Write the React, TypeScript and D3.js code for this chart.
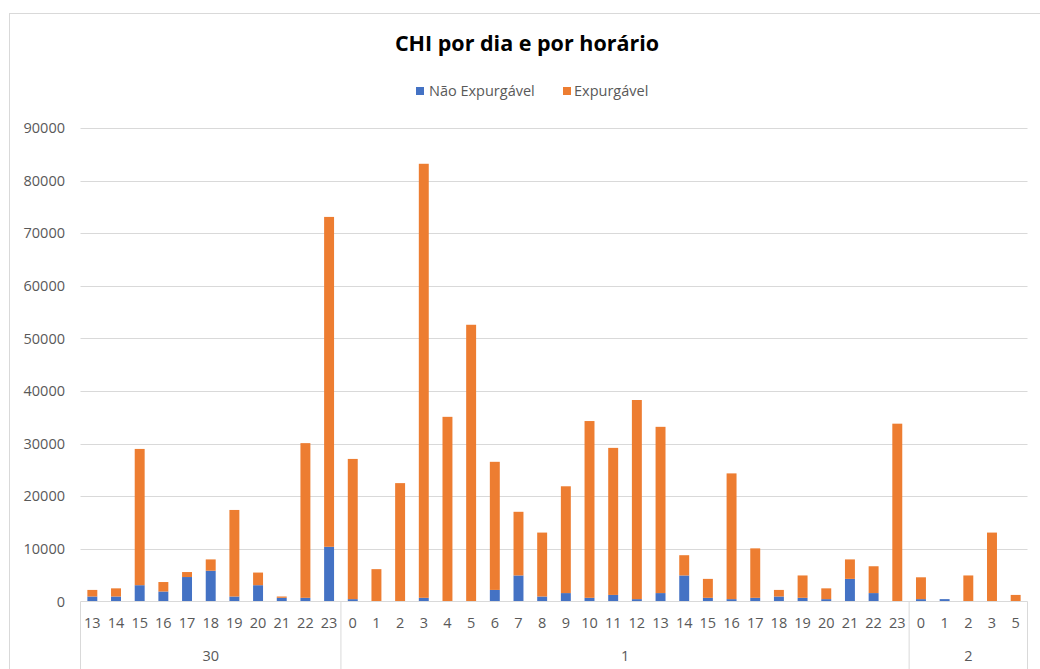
import * as d3 from "d3";

const days = ["30", "1", "2"];
const hoursByDay = [
  ["13", "14", "15", "16", "17", "18", "19", "20", "21", "22", "23"],
  ["0", "1", "2", "3", "4", "5", "6", "7", "8", "9", "10", "11", "12", "13", "14", "15", "16", "17", "18", "19", "20", "21", "22", "23"],
  ["0", "1", "2", "3", "5"],
];

// totals per hour (stack top) and the blue part
const totals = [
  2200, 2500, 29000, 3700, 5600, 8000, 17400, 5500, 950, 30100, 73100,
  27100, 6150, 22500, 83200, 35100, 52600, 26550, 17050, 13100, 21900, 34300, 29200, 38300,
  33200, 8800, 4300, 24350, 10100, 2200, 4950, 2500, 8000, 6700, 33800,
  4600, 450, 4950, 13100, 1250,
];
const naoExpurgavel = [
  950, 950, 3100, 1900, 4650, 5850, 950, 3100, 700, 700, 10400,
  450, 0, 0, 700, 0, 0, 2200, 4950, 950, 1600, 700, 1250, 450,
  1600, 4950, 700, 450, 700, 950, 700, 450, 4300, 1600, 0,
  450, 450, 0, 0, 0,
];
const expurgavel = totals.map((t, i) => t - naoExpurgavel[i]);

const yTicks = [0, 10000, 20000, 30000, 40000, 50000, 60000, 70000, 80000, 90000];

const BLUE = "#4472C4";
const ORANGE = "#ED7D31";
const TEXT = "#595959";
const GRID = "#D9D9D9";
const FONT = "'Open Sans', 'Noto Sans', sans-serif";

export default function App() {
  const width = 1040;
  const height = 669;
  const left = 80.5;
  const right = 1027.5;
  const top = 128;
  const bottom = 601.5;

  const cats = hoursByDay.flatMap((hs, di) => hs.map((h) => `${di}-${h}`));
  const x = d3.scaleBand<string>().domain(cats).range([left, right]).paddingInner(0.58).paddingOuter(0.29);
  const step = x.step();
  const y = d3.scaleLinear().domain([0, 90000]).range([bottom, top]);

  const stacked = d3
    .stack<number>()
    .keys(["nao", "exp"])
    .value((i, key) => (key === "nao" ? naoExpurgavel[i] : expurgavel[i]))(d3.range(cats.length));

  let offset = 0;
  const groups = hoursByDay.map((hs, di) => {
    const start = offset;
    offset += hs.length;
    return { day: days[di], start, end: offset };
  });

  return (
    <svg width={width} height={height} style={{ position: "absolute", left: 0, top: 0 }}>
      <rect x={0} y={0} width={width} height={height} fill="#fff" />
      <rect x={9.5} y={13.5} width={1100} height={700} fill="#fff" stroke={GRID} />
      <text x={527} y={51} textAnchor="middle" fontFamily={FONT} fontSize={21.5} fontWeight={700} fill="#000">
        CHI por dia e por horário
      </text>

      {/* legend */}
      <g fontFamily={FONT} fontSize={14.5} fill={TEXT}>
        <rect x={416} y={87} width={8} height={8} fill={BLUE} />
        <text x={429} y={96}>Não Expurgável</text>
        <rect x={563} y={87} width={8} height={8} fill={ORANGE} />
        <text x={574} y={96}>Expurgável</text>
      </g>

      {yTicks.map((t) => (
        <g key={t}>
          {t > 0 && <line x1={left} x2={right} y1={Math.round(y(t)) + 0.5} y2={Math.round(y(t)) + 0.5} stroke={GRID} />}
          <text x={65} y={y(t)} dy="0.35em" textAnchor="end" fontFamily={FONT} fontSize={14.5} fill={TEXT}>
            {t}
          </text>
        </g>
      ))}

      {stacked.map((series, si) => (
        <g key={series.key} fill={si === 0 ? BLUE : ORANGE}>
          {series.map((d, i) =>
            d[1] - d[0] > 0 ? (
              <rect key={i} x={x(cats[i])} width={x.bandwidth()} y={y(d[1])} height={y(d[0]) - y(d[1])} />
            ) : null,
          )}
        </g>
      ))}

      {/* category axis */}
      <line x1={left} x2={right} y1={bottom} y2={bottom} stroke={GRID} />
      {groups.map((g) => (
        <g key={g.day + g.start}>
          <line x1={left + g.start * step} x2={left + g.start * step} y1={bottom} y2={height} stroke={GRID} />
          <text
            x={left + ((g.start + g.end) / 2) * step}
            y={656}
            dy="0.35em"
            textAnchor="middle"
            fontFamily={FONT}
            fontSize={14.5}
            fill={TEXT}
          >
            {g.day}
          </text>
        </g>
      ))}
      <line x1={right} x2={right} y1={bottom} y2={height} stroke={GRID} />
      {cats.map((c) => (
        <text
          key={c}
          x={(x(c) ?? 0) + x.bandwidth() / 2}
          y={623}
          dy="0.35em"
          textAnchor="middle"
          fontFamily={FONT}
          fontSize={14.5}
          fill={TEXT}
        >
          {c.split("-")[1]}
        </text>
      ))}
    </svg>
  );
}
